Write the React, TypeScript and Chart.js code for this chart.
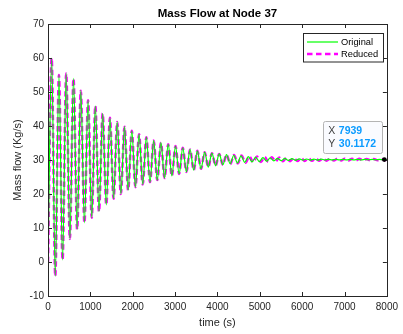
import React, { useEffect, useRef } from "react";
import { Chart, registerables } from "chart.js";

Chart.register(...registerables);

// ---------- data ----------
const chartTitle = "Mass Flow at Node 37";
const xLabel = "time (s)";
const yLabel = "Mass flow (Kg/s)";
const seriesNames = ["Original", "Reduced"];

const xMin = 0;
const xMax = 8000;
const xStep = 1000;
const yMin = -10;
const yMax = 70;
const yStep = 10;

// turning points of the oscillation (troughs and peaks), time in s
const originalTime = [
  0, 86, 172, 258, 344, 430, 516, 602, 688, 774, 860, 946, 1032, 1118, 1204, 1290,
  1376, 1462, 1548, 1634, 1720, 1806, 1892, 1978, 2064, 2150, 2236, 2322, 2408, 2494,
  2580, 2666, 2752, 2838, 2924, 3010, 3096, 3182, 3268, 3354, 3440, 3526, 3612, 3698,
  3784, 3870, 3956, 4042, 4128, 4214, 4300, 4386, 4472, 4558, 4644, 4730, 4816, 4902,
  4988, 5074, 5160, 5246, 5332, 5418, 5504, 5590, 5676, 5762, 5848, 5934, 6020, 6106,
  6192, 6278, 6364, 6450, 6536, 6622, 6708, 6794, 6880, 6966, 7052, 7138, 7224, 7310,
  7396, 7482, 7568, 7654, 7740, 7826, 7912, 7998,
];
const originalFlow = [
  0, 60.0, -4.2, 55.0, 0.6, 55.5, 6.8, 54.0, 9.6, 50.4, 11.5, 47.6, 13.0, 45.9, 14.8, 43.7,
  16.8, 42.4, 18.6, 41.2, 20.0, 39.8, 21.1, 38.6, 22.0, 37.6, 22.8, 36.7, 23.5, 35.7,
  24.1, 35.1, 24.7, 34.6, 25.3, 34.1, 25.9, 33.6, 26.5, 33.1, 27.0, 32.7, 27.4, 32.3,
  27.9, 32.0, 28.3, 31.8, 28.6, 31.6, 28.9, 31.4, 29.1, 31.2, 29.3, 31.0, 29.45, 30.85,
  29.55, 30.7, 29.65, 30.6, 29.75, 30.5, 29.8, 30.45, 29.85, 30.4, 29.9, 30.35, 29.95, 30.3,
  29.97, 30.28, 29.99, 30.26, 30.0, 30.24, 30.02, 30.22, 30.03, 30.21, 30.04, 30.2, 30.05, 30.19,
  30.06, 30.18, 30.07, 30.17, 30.07, 30.16, 30.08, 30.12,
];

const reducedTime = [
  0, 86, 172, 258, 344, 430, 516, 602, 688, 774, 860, 946, 1032, 1118, 1204, 1290,
  1376, 1462, 1548, 1634, 1720, 1806, 1892, 1978, 2064, 2150, 2236, 2322, 2408, 2494,
  2580, 2666, 2752, 2838, 2924, 3010, 3096, 3182, 3268, 3354, 3440, 3526, 3612, 3698,
  3784, 3870, 3956, 4042, 4128, 4214, 4305, 4391, 4482, 4568, 4664, 4750, 4846, 4932,
  5028, 5114, 5200, 5286, 5372, 5458, 5544, 5630, 5716, 5802, 5888, 5974, 6060, 6146,
  6232, 6318, 6404, 6490, 6576, 6662, 6748, 6834, 6920, 7006, 7092, 7178, 7264, 7350,
  7436, 7522, 7608, 7694, 7780, 7866, 7952, 8000,
];
const reducedFlow = [
  0, 60.0, -4.2, 55.0, 0.6, 55.5, 6.8, 54.0, 9.6, 50.4, 11.5, 47.6, 13.0, 45.9, 14.8, 43.7,
  16.8, 42.4, 18.6, 41.2, 20.0, 39.8, 21.1, 38.6, 22.0, 37.6, 22.8, 36.7, 23.5, 35.7,
  24.1, 35.1, 24.7, 34.6, 25.3, 34.1, 25.9, 33.6, 26.5, 33.1, 27.0, 32.7, 27.4, 32.3,
  27.9, 32.0, 28.3, 31.8, 28.6, 31.6, 28.8, 31.5, 29.0, 31.3, 29.2, 31.1, 29.3, 31.0,
  29.4, 30.9, 29.5, 30.8, 29.55, 30.7, 29.6, 30.65, 29.65, 30.6, 29.7, 30.55, 29.72, 30.5,
  29.75, 30.47, 29.78, 30.44, 29.8, 30.42, 29.82, 30.4, 29.84, 30.38, 29.86, 30.36, 29.88, 30.34,
  29.9, 30.32, 29.91, 30.3, 29.92, 30.28, 29.94, 30.12,
];

const tipX = 7939;
const tipY = 30.1172;

// ---------- styles ----------
const FONT = '"Liberation Sans", Arial, Helvetica, sans-serif';
const TEXT = "#262626";
const GREEN = "#00ff00";
const MAGENTA = "#ff00ff";
const DASH = [5.5, 3.5];

const toPoints = (xs: number[], ys: number[]) => xs.map((x, i) => ({ x, y: ys[i] }));

export default function App() {
  const ref = useRef<HTMLCanvasElement>(null);

  useEffect(() => {
    const canvas = ref.current;
    if (!canvas) return;

    const decor = {
      id: "decor",
      afterDatasetsDraw(chart: any) {
        const { ctx, chartArea, scales } = chart;
        const { left, right, top, bottom } = chartArea;
        const xs = scales.x;
        const ys = scales.y;
        ctx.save();

        // box
        ctx.strokeStyle = TEXT;
        ctx.lineWidth = 1;
        ctx.setLineDash([]);
        ctx.strokeRect(Math.round(left) + 0.5, Math.round(top) + 0.5, Math.round(right - left), Math.round(bottom - top));

        // inward ticks on all sides
        const tl = 4;
        ctx.beginPath();
        xs.ticks.forEach((t: any) => {
          const px = Math.round(xs.getPixelForValue(t.value)) + 0.5;
          ctx.moveTo(px, bottom);
          ctx.lineTo(px, bottom - tl);
          ctx.moveTo(px, top);
          ctx.lineTo(px, top + tl);
        });
        ys.ticks.forEach((t: any) => {
          const py = Math.round(ys.getPixelForValue(t.value)) + 0.5;
          ctx.moveTo(left, py);
          ctx.lineTo(left + tl, py);
          ctx.moveTo(right, py);
          ctx.lineTo(right - tl, py);
        });
        ctx.stroke();

        // title
        ctx.fillStyle = "#000";
        ctx.font = `bold 11.5px ${FONT}`;
        ctx.textAlign = "center";
        ctx.textBaseline = "middle";
        ctx.fillText(chartTitle, (left + right) / 2, 14);

        // axis labels
        ctx.fillStyle = TEXT;
        ctx.font = `11px ${FONT}`;
        ctx.fillText(xLabel, (left + right) / 2, 323);
        ctx.save();
        ctx.translate(18, (top + bottom) / 2);
        ctx.rotate(-Math.PI / 2);
        ctx.fillText(yLabel, 0, 0);
        ctx.restore();

        // legend
        const lx = 303.5, ly = 33.5, lw = 80, lh = 28.5;
        ctx.fillStyle = "#fff";
        ctx.fillRect(lx, ly, lw, lh);
        ctx.strokeStyle = TEXT;
        ctx.lineWidth = 1;
        ctx.strokeRect(lx, ly, lw, lh);
        ctx.lineWidth = 1.2;
        ctx.strokeStyle = GREEN;
        ctx.beginPath();
        ctx.moveTo(307, 42);
        ctx.lineTo(338, 42);
        ctx.stroke();
        ctx.lineWidth = 2.5;
        ctx.strokeStyle = MAGENTA;
        ctx.setLineDash(DASH);
        ctx.beginPath();
        ctx.moveTo(307, 54);
        ctx.lineTo(338, 54);
        ctx.stroke();
        ctx.setLineDash([]);
        ctx.fillStyle = "#000";
        ctx.font = `9.3px ${FONT}`;
        ctx.textAlign = "left";
        ctx.textBaseline = "middle";
        ctx.fillText(seriesNames[0], 341, 42.5);
        ctx.fillText(seriesNames[1], 341, 54.5);

        // data tip
        const px = xs.getPixelForValue(tipX);
        const py = ys.getPixelForValue(tipY);
        const bw = 59, bh = 32;
        const bx = px - 2 - bw, by = py - 7 - bh;
        ctx.fillStyle = "rgba(250,251,255,0.95)";
        ctx.strokeStyle = "#b4b4b4";
        ctx.lineWidth = 1;
        ctx.beginPath();
        if ((ctx as any).roundRect) (ctx as any).roundRect(Math.round(bx) + 0.5, Math.round(by) + 0.5, bw, bh, 2);
        else ctx.rect(Math.round(bx) + 0.5, Math.round(by) + 0.5, bw, bh);
        ctx.fill();
        ctx.stroke();
        ctx.textBaseline = "middle";
        ctx.textAlign = "left";
        ctx.font = `10.5px ${FONT}`;
        ctx.fillStyle = "#404040";
        ctx.fillText("X", bx + 5, by + 10.5);
        ctx.fillText("Y", bx + 5, by + 23.5);
        ctx.font = `bold 10.5px ${FONT}`;
        ctx.fillStyle = "#0a9bff";
        ctx.fillText(String(tipX), bx + 15.5, by + 10.5);
        ctx.fillText(String(tipY), bx + 15.5, by + 23.5);
        ctx.fillStyle = "#000";
        ctx.beginPath();
        ctx.arc(px, py, 2.3, 0, Math.PI * 2);
        ctx.fill();

        ctx.restore();
      },
    };

    const chart = new Chart(canvas, {
      type: "line",
      data: {
        datasets: [
          {
            label: seriesNames[0],
            data: toPoints(originalTime, originalFlow),
            borderColor: GREEN,
            borderWidth: 1.2,
            pointRadius: 0,
            cubicInterpolationMode: "monotone",
            fill: false,
          },
          {
            label: seriesNames[1],
            data: toPoints(reducedTime, reducedFlow),
            borderColor: MAGENTA,
            borderWidth: 2.5,
            borderDash: DASH,
            pointRadius: 0,
            cubicInterpolationMode: "monotone",
            fill: false,
          },
        ],
      },
      options: {
        animation: false,
        responsive: false,
        devicePixelRatio: 1,
        events: [],
        layout: { padding: { top: 24, right: 12, left: 0, bottom: 0 } },
        plugins: {
          legend: { display: false },
          tooltip: { enabled: false },
          title: { display: false },
        },
        scales: {
          x: {
            type: "linear",
            min: xMin,
            max: xMax,
            grid: { display: false, drawTicks: false },
            border: { display: false },
            ticks: {
              stepSize: xStep,
              padding: 5,
              maxRotation: 0,
              autoSkip: false,
              color: TEXT,
              font: { family: FONT, size: 10 },
              callback: (v: any) => String(v),
            },
            afterFit: (s: any) => {
              s.height = 38;
            },
          },
          y: {
            type: "linear",
            min: yMin,
            max: yMax,
            grid: { display: false, drawTicks: false },
            border: { display: false },
            ticks: {
              stepSize: yStep,
              padding: 4,
              autoSkip: false,
              color: TEXT,
              font: { family: FONT, size: 10 },
              callback: (v: any) => String(v),
            },
            afterFit: (s: any) => {
              s.width = 48;
            },
          },
        },
      },
      plugins: [decor],
    } as any);

    return () => chart.destroy();
  }, []);

  return (
    <div style={{ position: "fixed", left: 0, top: 0, width: 403, height: 334, background: "#fff" }}>
      <canvas ref={ref} width={403} height={334} style={{ width: 403, height: 334, display: "block" }} />
    </div>
  );
}
